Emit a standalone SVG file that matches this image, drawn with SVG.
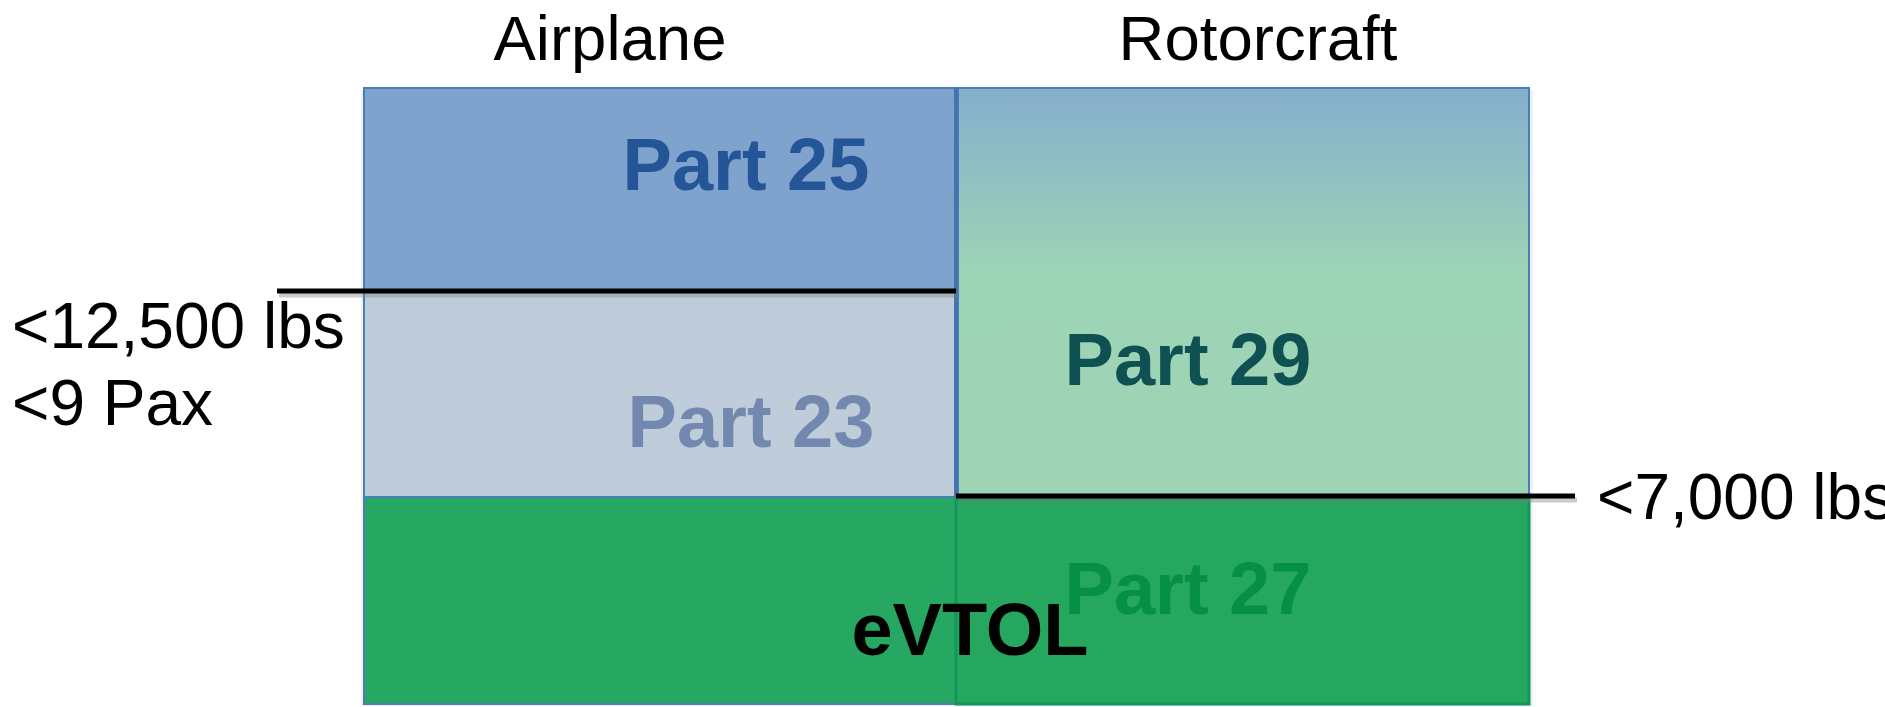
<svg xmlns="http://www.w3.org/2000/svg" width="1885" height="707" viewBox="0 0 1885 707">
  <style>
    .head { font-family: "Liberation Sans", Arial, sans-serif; font-size: 63.5px; fill: #000; text-anchor: middle; }
    .lim { font-family: "Liberation Sans", Arial, sans-serif; font-size: 64px; fill: #000; }
    .part { font-family: "Liberation Sans", Arial, sans-serif; font-size: 74px; font-weight: bold; text-anchor: middle; }
    .box { stroke: #4A7EBB; stroke-width: 2; }
    .rule { stroke: #000; stroke-width: 5; }
    .ruleShadow { stroke: #7F7F7F; stroke-width: 5; opacity: 0.4; }
  </style>
  <defs>
    <linearGradient id="rotorFill" x1="0" y1="0" x2="0" y2="1">
      <stop offset="0" stop-color="#86AECD"/>
      <stop offset="0.45" stop-color="#9DD4B5"/>
      <stop offset="1" stop-color="#9ED4B5"/>
    </linearGradient>
  </defs>

  <rect width="1885" height="707" fill="#FFFFFF"/>

  <!-- column headings -->
  <text class="head" x="610" y="60">Airplane</text>
  <text class="head" x="1258" y="60">Rotorcraft</text>

  <!-- soft edge shadows behind the boxes -->
  <rect x="361" y="90" width="1172" height="616" fill="#000" opacity="0.06"/>

  <g id="part25">
    <rect class="box" x="364" y="88" width="592" height="203" fill="#7FA3CD"/>
    <text class="part" x="746" y="190" fill="#245597">Part 25</text>
  </g>

  <g id="part23">
    <rect class="box" x="364" y="291" width="592" height="206" fill="#BFCDDB"/>
    <text class="part" x="751" y="447" fill="#7388AE">Part 23</text>
  </g>

  <g id="part29">
    <rect class="box" x="958" y="88" width="571" height="409" fill="url(#rotorFill)"/>
    <text class="part" x="1188" y="385" fill="#0F5152">Part 29</text>
  </g>

  <g id="evtol">
    <rect class="box" x="364" y="497" width="1165" height="207" fill="#27A862"/>
  </g>

  <g id="part27">
    <rect x="956" y="499" width="573" height="205" fill="#26A75F" stroke="#11975A" stroke-width="3"/>
    <text class="part" x="1188" y="614" fill="#058F47">Part 27</text>
  </g>

  <!-- divider between the two columns -->
  <line x1="956" y1="88" x2="956" y2="497" stroke="#4573AE" stroke-width="4"/>

  <text class="part" x="970" y="655" fill="#000">eVTOL</text>

  <g id="connectors">
    <line class="ruleShadow" x1="279" y1="295" x2="958" y2="295"/>
    <line class="rule" x1="277" y1="291" x2="956" y2="291"/>
    <line class="ruleShadow" x1="958" y1="500" x2="1577" y2="500"/>
    <line class="rule" x1="956" y1="496" x2="1575" y2="496"/>
  </g>

  <!-- weight / passenger limits -->
  <text class="lim" x="12" y="348">&lt;12,500 lbs</text>
  <text class="lim" x="12" y="425">&lt;9 Pax</text>
  <text class="lim" x="1597" y="519">&lt;7,000 lbs</text>
</svg>
